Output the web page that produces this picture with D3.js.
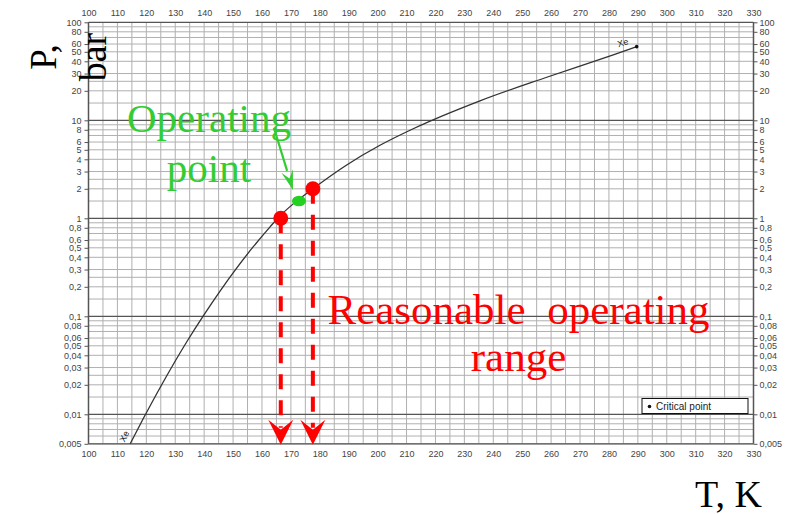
<!DOCTYPE html>
<html>
<head>
<meta charset="utf-8">
<script src="https://cdn.jsdelivr.net/npm/d3@7/dist/d3.min.js"></script>
<style>
  html, body { margin: 0; padding: 0; background: #fff; }
  svg { display: block; }
  .tick-label { font-family: "Liberation Sans", Arial, sans-serif; font-size: 9px; fill: #444; }
  .big { font-family: "Liberation Serif", "Times New Roman", serif; }
</style>
</head>
<body>
<svg id="chart" width="791" height="514"></svg>
<script>
// Xenon vapour-pressure curve (temperature in K, pressure in bar)
const curveT = [114.4, 119.0, 125.9, 134.0, 139.7, 145.5, 151.3, 157.0, 162.8, 165.7, 171.0, 177.6, 189.3, 200.8, 212.3, 235.4, 258.5, 281.5, 289.6];
const curveP = [0.005, 0.0091, 0.0215, 0.055, 0.101, 0.181, 0.312, 0.513, 0.818, 1.02, 1.42, 2.0, 3.5, 5.56, 8.2, 15.8, 27.5, 46.6, 56.4];

// Critical point of xenon
const criticalT = 289.6;
const criticalP = 56.4;

// Reasonable operating range (lower and upper bound) and operating point
const rangeT = [166.5, 177.6];
const rangeP = [1, 2];
const operatingT = 172.8;
const operatingP = 1.5;

// Axis tick labels
const tempTicks = [100, 110, 120, 130, 140, 150, 160, 170, 180, 190, 200, 210, 220, 230, 240, 250, 260, 270, 280, 290, 300, 310, 320, 330];
const pressTicks = [100, 80, 60, 50, 40, 30, 20, 10, 8, 6, 5, 4, 3, 2, 1, 0.8, 0.6, 0.5, 0.4, 0.3, 0.2, 0.1, 0.08, 0.06, 0.05, 0.04, 0.03, 0.02, 0.01, 0.005];
const pressLabels = ["100", "80", "60", "50", "40", "30", "20", "10", "8", "6", "5", "4", "3", "2", "1", "0,8", "0,6", "0,5", "0,4", "0,3", "0,2", "0,1", "0,08", "0,06", "0,05", "0,04", "0,03", "0,02", "0,01", "0,005"];
// Mantissas of the log-grid lines inside each decade
const gridMantissas = [1, 1.5, 2, 2.5, 3, 4, 5, 6, 7, 8, 9];

const svg = d3.select("#chart");
const x = d3.scaleLinear().domain([100, 330]).range([88.5, 753.5]);
const y = d3.scaleLog().domain([0.005, 100]).range([443.8, 22.3]);

// ---- grid ----
const grid = svg.append("g");
const vLines = d3.range(100, 331, 5);
grid.selectAll("line.v").data(vLines).join("line")
  .attr("x1", d => x(d)).attr("x2", d => x(d))
  .attr("y1", y(100)).attr("y2", y(0.005))
  .attr("stroke", "#b0b0b0").attr("stroke-width", 1);

const hLines = [];
[0.001, 0.01, 0.1, 1, 10].forEach(dec => gridMantissas.forEach(m => {
  const v = +(dec * m).toPrecision(3);
  if (v >= 0.005 && v <= 100) hLines.push(v);
}));
hLines.push(100);
const isDecade = v => Math.abs(Math.log10(v) - Math.round(Math.log10(v))) < 1e-6;
grid.selectAll("line.h").data(hLines).join("line")
  .attr("x1", x(100)).attr("x2", x(330))
  .attr("y1", d => y(d)).attr("y2", d => y(d))
  .attr("stroke", d => isDecade(d) ? "#555" : "#b0b0b0")
  .attr("stroke-width", d => isDecade(d) ? 1.2 : 1);
grid.append("line").attr("x1", x(100)).attr("x2", x(330)).attr("y1", y(0.005)).attr("y2", y(0.005))
  .attr("stroke", "#555").attr("stroke-width", 1.2);

// frame (left and right axes)
[100, 330].forEach(t => grid.append("line")
  .attr("x1", x(t)).attr("x2", x(t)).attr("y1", y(100)).attr("y2", y(0.005))
  .attr("stroke", "#555").attr("stroke-width", 1.5));

// ---- axes ----
const leftAxis = d3.axisLeft(y).tickValues(pressTicks).tickFormat((d, i) => pressLabels[i]).tickSize(4).tickPadding(3);
const rightAxis = d3.axisRight(y).tickValues(pressTicks).tickFormat((d, i) => pressLabels[i]).tickSize(4).tickPadding(2);
const topAxis = d3.axisTop(x).tickValues(tempTicks).tickFormat(d3.format("d")).tickSize(0).tickPadding(6);
const bottomAxis = d3.axisBottom(x).tickValues(tempTicks).tickFormat(d3.format("d")).tickSize(0).tickPadding(7);

function styleAxis(g) {
  g.select(".domain").remove();
  g.selectAll(".tick line").attr("stroke", "#555");
  g.selectAll(".tick text").attr("class", "tick-label").attr("fill", null);
}
svg.append("g").attr("transform", `translate(${x(100)},0)`).call(leftAxis).call(styleAxis);
svg.append("g").attr("transform", `translate(${x(330)},0)`).call(rightAxis).call(styleAxis);
svg.append("g").attr("transform", `translate(0,${y(100)})`).call(topAxis).call(styleAxis);
svg.append("g").attr("transform", `translate(0,${y(0.005)})`).call(bottomAxis).call(styleAxis);

// ---- vapour-pressure curve ----
const pts = curveT.map((t, i) => [x(t), y(curveP[i])]);
svg.append("path")
  .attr("d", d3.line().curve(d3.curveMonotoneX)(pts))
  .attr("fill", "none").attr("stroke", "#333").attr("stroke-width", 1.3);

svg.append("circle").attr("cx", x(criticalT)).attr("cy", y(criticalP)).attr("r", 1.8).attr("fill", "#111");

// curve labels
svg.append("text").attr("class", "tick-label")
  .attr("transform", `translate(${x(criticalT) - 13},${y(criticalP) - 1}) rotate(-17)`)
  .attr("text-anchor", "middle").style("fill", "#222").text("Xe");
svg.append("text").attr("class", "tick-label")
  .attr("transform", `translate(${x(curveT[0]) - 3},${y(curveP[0]) - 6}) rotate(-62)`)
  .attr("text-anchor", "middle").style("fill", "#222").text("Xe");

// ---- legend ----
const leg = svg.append("g").attr("transform", "translate(642,398.5)");
leg.append("rect").attr("width", 106).attr("height", 15).attr("fill", "#fff").attr("stroke", "#111").attr("stroke-width", 1);
leg.append("circle").attr("cx", 7.5).attr("cy", 8).attr("r", 1.8).attr("fill", "#111");
leg.append("text").attr("x", 14).attr("y", 11.5).attr("class", "tick-label").style("font-size", "10px").style("fill", "#222").text("Critical point");

// ---- operating range markers ----
const red = "#ff0000";
rangeT.forEach((t, i) => {
  const cx = x(t), cy = y(rangeP[i]);
  svg.append("line").attr("x1", cx).attr("x2", cx).attr("y1", cy).attr("y2", y(0.005) - 16)
    .attr("stroke", red).attr("stroke-width", 4).attr("stroke-dasharray", "15,11");
  const tip = y(0.005) + 1;
  svg.append("path")
    .attr("d", `M${cx},${tip} L${cx - 12.5},${tip - 25} L${cx},${tip - 15} L${cx + 12.5},${tip - 25} Z`)
    .attr("fill", red);
  svg.append("circle").attr("cx", cx).attr("cy", cy).attr("r", 7.5).attr("fill", red);
});

// operating point
const green = "#33cc33";
svg.append("ellipse").attr("cx", x(operatingT)).attr("cy", y(operatingP)).attr("rx", 7).attr("ry", 5.3).attr("fill", "#22d022");

// pointer arrow to the operating point
const ax0 = 274, ay0 = 128;
const ax1 = x(operatingT) - 6, ay1 = y(operatingP) - 11;
const ang = Math.atan2(ay1 - ay0, ax1 - ax0);
const hl = 20, hw = 6;
const bx = ax1 - hl * Math.cos(ang), by = ay1 - hl * Math.sin(ang);
svg.append("line").attr("x1", ax0).attr("y1", ay0).attr("x2", bx).attr("y2", by)
  .attr("stroke", green).attr("stroke-width", 2.2);
svg.append("path")
  .attr("d", `M${ax1},${ay1} L${bx + hw * Math.sin(ang)},${by - hw * Math.cos(ang)} L${ax1 - 0.6 * hl * Math.cos(ang)},${ay1 - 0.6 * hl * Math.sin(ang)} L${bx - hw * Math.sin(ang)},${by + hw * Math.cos(ang)} Z`)
  .attr("fill", green);

// ---- annotations ----
svg.append("text").attr("class", "big").attr("x", 209).attr("y", 131.5).attr("text-anchor", "middle")
  .style("font-size", "41px").attr("fill", green).text("Operating");
svg.append("text").attr("class", "big").attr("x", 209).attr("y", 181.5).attr("text-anchor", "middle")
  .style("font-size", "41px").attr("fill", green).text("point");

svg.append("text").attr("class", "big").attr("x", 518.5).attr("y", 324).attr("text-anchor", "middle")
  .style("font-size", "43px").style("white-space", "pre").attr("fill", red).text("Reasonable  operating");
svg.append("text").attr("class", "big").attr("x", 518.5).attr("y", 371).attr("text-anchor", "middle")
  .style("font-size", "43px").attr("fill", red).text("range");

// axis titles
svg.append("text").attr("class", "big").attr("transform", "translate(56,57) rotate(-90)").attr("text-anchor", "middle")
  .style("font-size", "37px").attr("fill", "#000").text("P,");
svg.append("text").attr("class", "big").attr("transform", "translate(106,57) rotate(-90)").attr("text-anchor", "middle")
  .style("font-size", "38px").attr("fill", "#000").text("bar");
svg.append("text").attr("class", "big").attr("x", 695).attr("y", 507)
  .style("font-size", "38px").attr("fill", "#000").text("T, K");
</script>
</body>
</html>
